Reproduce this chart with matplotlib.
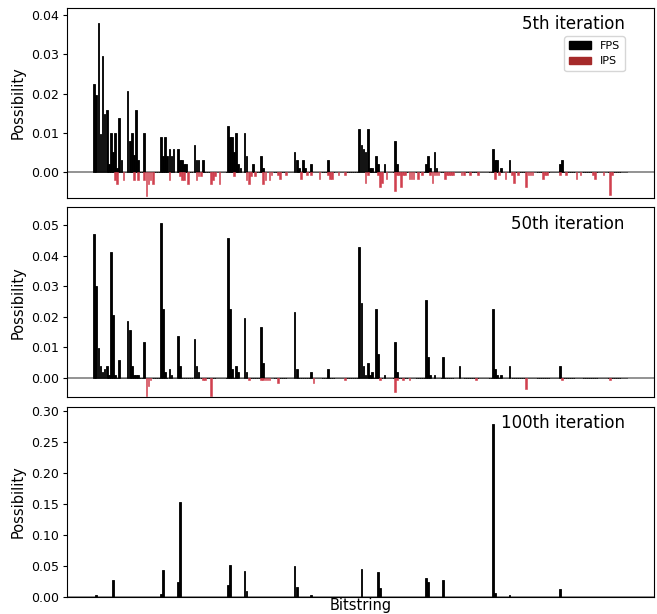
import numpy as np
import matplotlib
matplotlib.use('Agg')
import matplotlib.pyplot as plt
from matplotlib.patches import Patch

# 8 qubits -> 256 bitstrings
n_bits = 256
titles = ['5th iteration', '50th iteration', '100th iteration']

# sparse values: index -> possibility
fps5_idx = [0, 1, 2, 3, 4, 5, 6, 7, 8, 9, 10, 11, 12, 13, 16, 17, 18, 19, 20, 21, 24,
            32, 33, 34, 35, 36, 37, 38, 40, 41, 42, 43, 44, 48, 49, 50, 52,
            64, 65, 66, 67, 68, 69, 70, 72, 73, 76, 80, 81, 96, 97, 98, 100, 101, 104, 112,
            127, 128, 129, 130, 131, 132, 133, 135, 136, 139, 144, 145,
            159, 160, 161, 163, 164, 191, 192, 193, 195, 199, 223, 224]
fps5_val = [0.0225, 0.0196, 0.038, 0.0098, 0.0296, 0.0147, 0.0158, 0.002, 0.0099, 0.005,
            0.0099, 0.001, 0.0137, 0.003, 0.0206, 0.0079, 0.0099, 0.0043, 0.0158, 0.003, 0.0099,
            0.0089, 0.004, 0.0089, 0.004, 0.0058, 0.004, 0.0058, 0.0058, 0.003, 0.003, 0.002,
            0.002, 0.0069, 0.003, 0.003, 0.003,
            0.0117, 0.009, 0.009, 0.005, 0.010, 0.002, 0.001, 0.010, 0.004, 0.002, 0.004, 0.001,
            0.0051, 0.003, 0.001, 0.003, 0.001, 0.002, 0.003,
            0.0109, 0.0069, 0.0058, 0.005, 0.0109, 0.001, 0.001, 0.004, 0.002, 0.002, 0.0079,
            0.002, 0.002, 0.004, 0.001, 0.0051, 0.001, 0.0058, 0.003, 0.003, 0.001, 0.003,
            0.002, 0.003]

ips5_idx = [10, 11, 14, 19, 21, 24, 25, 26, 27, 28, 36, 41, 42, 43, 45, 49, 50, 51, 56, 57,
            58, 60, 67, 73, 74, 75, 77, 81, 82, 84, 85, 88, 89, 92, 99, 102, 104, 108, 112,
            113, 114, 117, 120, 130, 131, 136, 137, 138, 140, 144, 145, 146, 147, 148, 149,
            151, 152, 153, 155, 157, 161, 162, 163, 164, 165, 168, 169, 170, 171, 172, 176,
            177, 180, 184, 192, 194, 197, 200, 201, 203, 207, 208, 209, 210, 215, 216, 217,
            223, 226, 231, 233, 239, 240, 244, 247, 248]
ips5_val = [0.002, 0.003, 0.002, 0.002, 0.002, 0.002, 0.006, 0.003, 0.002, 0.003, 0.002,
            0.001, 0.002, 0.002, 0.003, 0.002, 0.001, 0.001, 0.003, 0.002, 0.001, 0.003,
            0.001, 0.002, 0.003, 0.001, 0.001, 0.003, 0.002, 0.002, 0.0008, 0.0008, 0.0019,
            0.0008, 0.0019, 0.0008, 0.0008, 0.0019, 0.0008, 0.0019, 0.0019, 0.0008, 0.0008,
            0.0029, 0.0008, 0.0008, 0.0039, 0.0029, 0.0019, 0.0049, 0.0008, 0.0008, 0.0039,
            0.0008, 0.0008, 0.0019, 0.0019, 0.0019, 0.0019, 0.0008, 0.0008, 0.0029, 0.0008,
            0.0008, 0.0008, 0.0019, 0.0008, 0.0008, 0.0008, 0.0008, 0.0008, 0.0008, 0.0008,
            0.0008, 0.0019, 0.0008, 0.0019, 0.0008, 0.0029, 0.0008, 0.0039, 0.0008, 0.0008,
            0.0008, 0.0019, 0.0008, 0.0008, 0.0008, 0.0008, 0.0019, 0.0008, 0.0008, 0.0019,
            0.0008, 0.0059, 0.0008]

fps50_idx = [0, 1, 2, 3, 4, 5, 6, 7, 8, 9, 10, 12, 16, 17, 18, 19, 20, 21, 24, 32, 33, 34,
             36, 37, 40, 41, 48, 49, 50, 64, 65, 66, 68, 69, 72, 73, 80, 81, 96, 97, 104, 112,
             127, 128, 129, 130, 131, 132, 133, 135, 136, 139, 144, 145, 159, 160, 161, 163,
             167, 175, 191, 192, 193, 195, 199, 223]
fps50_val = [0.047, 0.030, 0.0098, 0.0037, 0.0018, 0.0028, 0.0037, 0.0008, 0.0413, 0.0205,
             0.0008, 0.0057, 0.0186, 0.0156, 0.0037, 0.0008, 0.0008, 0.0008, 0.0116, 0.0508,
             0.0225, 0.0018, 0.0028, 0.0008, 0.0137, 0.0037, 0.0126, 0.0037, 0.0018, 0.0459,
             0.0225, 0.0028, 0.0037, 0.0018, 0.0195, 0.0018, 0.0166, 0.0047, 0.0216, 0.0028,
             0.0017, 0.0028, 0.0429, 0.0245, 0.0037, 0.0008, 0.0047, 0.0008, 0.0017, 0.0225,
             0.0077, 0.0008, 0.0116, 0.0017, 0.0255, 0.0067, 0.0008, 0.0008, 0.0067, 0.0037,
             0.0225, 0.0027, 0.0008, 0.0008, 0.0037, 0.0037]

ips50_idx = [25, 26, 27, 52, 53, 56, 74, 80, 81, 82, 83, 84, 88, 105, 120, 137, 144, 145,
             148, 151, 183, 207, 224, 247]
ips50_val = [0.0059, 0.0026, 0.0009, 0.0009, 0.0009, 0.0059, 0.0009, 0.0009, 0.0009, 0.0009,
             0.0009, 0.0008, 0.0017, 0.0017, 0.0008, 0.0008, 0.0047, 0.0008, 0.0008, 0.0008,
             0.0008, 0.0037, 0.0008, 0.0008]

fps100_idx = [1, 9, 32, 33, 40, 41, 64, 65, 72, 73, 96, 97, 104, 128, 136, 137, 159, 160,
              167, 191, 192, 199, 223]
fps100_val = [0.002, 0.0265, 0.0038, 0.0427, 0.0232, 0.153, 0.0184, 0.0519, 0.041, 0.0086,
              0.0503, 0.0162, 0.0032, 0.0454, 0.039, 0.0146, 0.0308, 0.0243, 0.0276, 0.279,
              0.0054, 0.0032, 0.013]

ips100_idx = [104]
ips100_val = [0.0003]


def to_dense(idx, val):
    arr = np.zeros(n_bits)
    arr[idx] = val
    return arr


series = [
    (to_dense(fps5_idx, fps5_val), to_dense(ips5_idx, ips5_val)),
    (to_dense(fps50_idx, fps50_val), to_dense(ips50_idx, ips50_val)),
    (to_dense(fps100_idx, fps100_val), to_dense(ips100_idx, ips100_val)),
]

fps_color = 'black'
ips_color = '#d0404f'
ips_legend_color = '#a52a2a'

fig, axs = plt.subplots(3, 1, figsize=(6.57, 6.14), dpi=100)
fig.subplots_adjust(left=0.1015, right=0.9955, top=0.987, bottom=0.028, hspace=0.05)

x = np.arange(n_bits)
for ax, (fps, ips), title in zip(axs, series, titles):
    ax.axhline(0, color='grey', lw=1.2, zorder=0)
    ax.bar(x, fps, width=0.8, color=fps_color, edgecolor=fps_color, linewidth=0.6)
    # only the nonzero IPS bars, so no red line along zero
    nz = ips > 0
    ax.bar(x[nz], -ips[nz], width=0.8, color=ips_color, edgecolor=ips_color, linewidth=0.4)
    ax.set_ylim(-1.1*ips.max(), 1.1*fps.max())
    ax.set_xticks([])
    ax.set_ylabel('Possibility', fontsize=10.5)
    ax.tick_params(axis='y', labelsize=9, length=3, pad=2.5)
    ax.text(0.95, 0.915, title, transform=ax.transAxes, ha='right', va='center', fontsize=12)

# legend only in the first panel
handles = [Patch(color=fps_color, label='FPS'), Patch(color=ips_legend_color, label='IPS')]
axs[0].legend(handles=handles, loc='upper right', bbox_to_anchor=(0.95, 0.85),
              borderaxespad=0, fontsize=8)

axs[-1].set_xlabel('Bitstring', fontsize=10.5, labelpad=1)

plt.savefig('out.png')
